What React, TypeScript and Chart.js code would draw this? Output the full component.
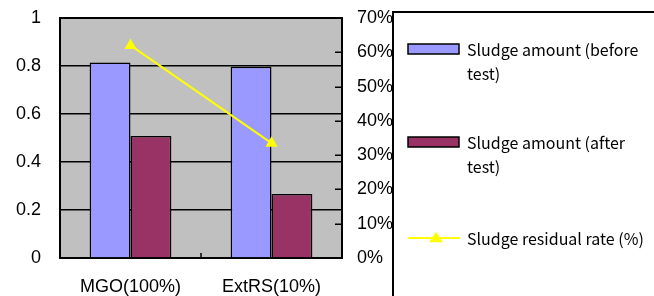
import React, { useEffect, useRef } from "react";
import { Chart, registerables } from "chart.js";

Chart.register(...registerables);

const categories = ["MGO(100%)", "ExtRS(10%)"];
const sludgeBefore = [0.815, 0.797];
const sludgeAfter = [0.508, 0.267];
const residualRate = [62, 33.5];
const seriesNames = [
  "Sludge amount (before test)",
  "Sludge amount (after test)",
  "Sludge residual rate (%)",
];
const leftTicks = [0, 0.2, 0.4, 0.6, 0.8, 1];
const rightTicks = [0, 10, 20, 30, 40, 50, 60, 70];

const colors = ["#9999FF", "#993366", "#FFFF00"];
const TICK_FONT = { family: "'Liberation Sans', Arial, sans-serif", size: 18 };
const LEGEND_FONT = "16px 'Noto Sans CJK JP', 'Noto Sans', sans-serif";

function wrapText(ctx: CanvasRenderingContext2D, text: string, maxW: number): string[] {
  const words = text.split(" ");
  const lines: string[] = [];
  let cur = "";
  for (const w of words) {
    const t = cur ? cur + " " + w : w;
    if (ctx.measureText(t).width > maxW && cur) {
      lines.push(cur);
      cur = w;
    } else cur = t;
  }
  if (cur) lines.push(cur);
  return lines;
}

function triangle(ctx: CanvasRenderingContext2D, x: number, y: number, r: number) {
  const h = r * 1.5;
  const half = r * 1.0;
  ctx.beginPath();
  ctx.moveTo(x, y - h * 0.6);
  ctx.lineTo(x + half, y + h * 0.4);
  ctx.lineTo(x - half, y + h * 0.4);
  ctx.closePath();
  ctx.fill();
}

const excelPlugin = {
  id: "excelLook",
  beforeDraw(chart: any) {
    const { ctx, chartArea: a } = chart;
    ctx.save();
    ctx.fillStyle = "#FFFFFF";
    ctx.fillRect(0, 0, chart.width, chart.height);
    ctx.fillStyle = "#C0C0C0";
    ctx.fillRect(a.left, a.top, a.right - a.left, a.bottom - a.top);
    ctx.restore();
  },
  beforeDatasetsDraw(chart: any) {
    const { ctx, chartArea: a } = chart;
    ctx.save();
    ctx.strokeStyle = "#000";
    ctx.lineWidth = 2;
    ctx.strokeRect(a.left, a.top, a.right - a.left, a.bottom - a.top);
    const y1 = chart.scales.y1;
    ctx.lineWidth = 1.5;
    ctx.beginPath();
    y1.ticks.forEach((t: any) => {
      const y = Math.round(y1.getPixelForValue(t.value)) + 0.25;
      ctx.moveTo(a.right - 7, y);
      ctx.lineTo(a.right, y);
    });
    const x = chart.scales.x;
    for (let i = 0; i < categories.length - 1; i++) {
      const px = Math.round((x.getPixelForTick(i) + x.getPixelForTick(i + 1)) / 2);
      ctx.moveTo(px, a.bottom);
      ctx.lineTo(px, a.bottom - 5);
    }
    ctx.stroke();
    ctx.restore();
  },
  afterDraw(chart: any) {
    const { ctx } = chart;
    ctx.save();
    ctx.strokeStyle = "#000";
    ctx.lineWidth = 2;
    ctx.strokeRect(393, 12, 300, 300);
    ctx.font = LEGEND_FONT;
    ctx.fillStyle = "#000";
    ctx.textBaseline = "middle";
    ctx.textAlign = "left";
    const anchors = [49, 142, 238];
    const ds = chart.data.datasets;
    ds.forEach((d: any, i: number) => {
      const cy = anchors[i];
      if (d.type === "line") {
        ctx.strokeStyle = d.borderColor;
        ctx.lineWidth = 2;
        ctx.beginPath();
        ctx.moveTo(408, cy);
        ctx.lineTo(460, cy);
        ctx.stroke();
        ctx.fillStyle = d.borderColor;
        triangle(ctx, 436, cy, 7);
      } else {
        ctx.fillStyle = d.backgroundColor;
        ctx.fillRect(408, cy - 5, 51, 10);
        ctx.strokeStyle = "#000";
        ctx.lineWidth = 1.5;
        ctx.strokeRect(408, cy - 5, 51, 10);
      }
      ctx.fillStyle = "#000";
      const lines = wrapText(ctx, d.label, 182);
      lines.forEach((ln, j) => ctx.fillText(ln, 467, cy + 1 + j * 24));
    });
    ctx.restore();
  },
};

export default function App() {
  const ref = useRef<HTMLCanvasElement | null>(null);
  useEffect(() => {
    if (!ref.current) return;
    const chart = new Chart(ref.current, {
      type: "bar",
      data: {
        labels: categories,
        datasets: [
          {
            type: "bar",
            label: seriesNames[0],
            data: sludgeBefore,
            backgroundColor: colors[0],
            borderColor: "#000",
            borderWidth: 1.5,
            yAxisID: "y",
            order: 1,
          },
          {
            type: "bar",
            label: seriesNames[1],
            data: sludgeAfter,
            backgroundColor: colors[1],
            borderColor: "#000",
            borderWidth: 1.5,
            yAxisID: "y",
            order: 1,
          },
          {
            type: "line",
            label: seriesNames[2],
            data: residualRate,
            borderColor: colors[2],
            backgroundColor: colors[2],
            borderWidth: 2,
            pointStyle: "triangle",
            pointRadius: 7,
            pointBorderWidth: 0,
            pointBackgroundColor: colors[2],
            yAxisID: "y1",
            order: 0,
          } as any,
        ],
      },
      options: {
        responsive: false,
        animation: false,
        events: [],
        layout: { padding: { top: 18, right: 262, left: 0, bottom: 0 } },
        plugins: { legend: { display: false }, tooltip: { enabled: false } },
        datasets: { bar: { categoryPercentage: 0.58, barPercentage: 1 } },
        scales: {
          x: {
            offset: true,
            grid: { display: false, drawTicks: false },
            border: { display: false },
            ticks: { color: "#000", font: TICK_FONT, padding: 18, maxRotation: 0 },
            afterFit: (s: any) => {
              s.height = 38;
              s.paddingLeft = 0;
              s.paddingRight = 0;
            },
          },
          y: {
            position: "left",
            min: 0,
            max: 1,
            afterBuildTicks: (s: any) => {
              s.ticks = leftTicks.map((v) => ({ value: v }));
            },
            grid: { color: "#000", lineWidth: 1.5, drawTicks: false },
            border: { display: false },
            ticks: {
              color: "#000",
              font: TICK_FONT,
              padding: 19,
              callback: (v: any) => String(Number(Number(v).toFixed(1))),
            },
            afterFit: (s: any) => {
              s.width = 60;
              s.paddingTop = 0;
              s.paddingBottom = 0;
            },
          },
          y1: {
            position: "right",
            min: 0,
            max: 70,
            afterBuildTicks: (s: any) => {
              s.ticks = rightTicks.map((v) => ({ value: v }));
            },
            grid: { display: false, drawTicks: false },
            border: { display: false },
            ticks: {
              color: "#000",
              font: TICK_FONT,
              padding: 15,
              callback: (v: any) => `${v}%`,
            },
            afterFit: (s: any) => {
              s.width = 50;
              s.paddingTop = 0;
              s.paddingBottom = 0;
            },
          },
        },
      },
      plugins: [excelPlugin],
    });
    return () => chart.destroy();
  }, []);
  return (
    <div style={{ position: "fixed", left: 0, top: 0, width: 654, height: 296, background: "#fff" }}>
      <canvas ref={ref} width={654} height={296} style={{ display: "block" }} />
    </div>
  );
}
